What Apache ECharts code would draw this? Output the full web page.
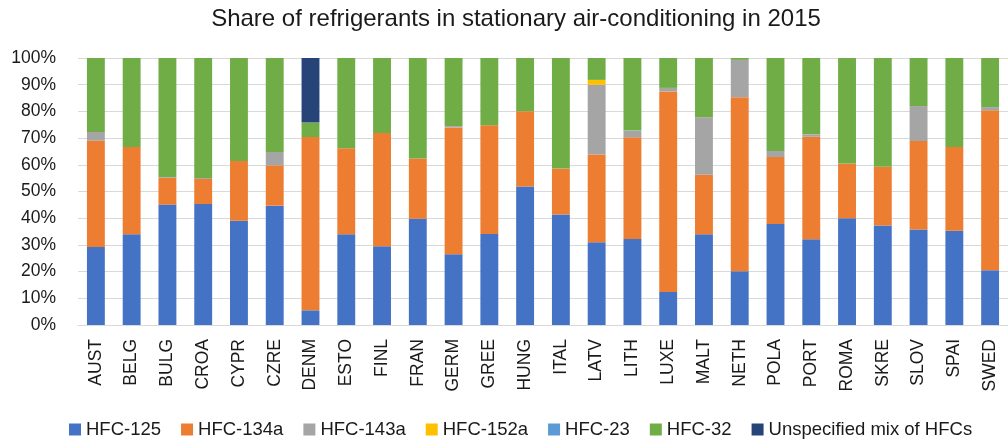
<!DOCTYPE html>
<html>
<head>
<meta charset="utf-8">
<script src="https://cdn.jsdelivr.net/npm/echarts@6/dist/echarts.min.js"></script>
<style>html,body{margin:0;padding:0;background:#fff}#c{width:1008px;height:441px}</style>
</head>
<body>
<div id="c"></div>
<script>
const categories = ['AUST','BELG','BULG','CROA','CYPR','CZRE','DENM','ESTO','FINL','FRAN','GERM','GREE','HUNG','ITAL','LATV','LITH','LUXE','MALT','NETH','POLA','PORT','ROMA','SKRE','SLOV','SPAI','SWED'];
const hfc125  = [29.2,34.0,45.1,45.3,39.0,44.7,5.5,34.0,29.5,39.8,26.5,34.1,51.9,41.4,31.0,32.2,12.4,34.0,20.1,37.8,32.1,40.0,37.3,35.8,35.3,20.5];
const hfc134a = [39.8,32.7,10.0,9.4,22.4,15.1,64.9,32.2,42.4,22.6,47.5,40.7,28.2,17.2,32.9,38.1,75.1,22.3,65.2,25.1,38.4,20.5,22.0,33.1,31.4,59.9];
const hfc143a = [3.3,0,0.3,0.4,0,5.0,0,0,0,0,0.5,0,0,0,26.1,2.5,1.3,21.5,14.0,2.3,0.9,0,0,13.1,0,1.2];
const hfc152a = [0,0,0,0,0,0,0,0,0,0,0,0,0,0,1.8,0,0,0,0,0,0,0,0,0,0,0];
const hfc23   = [0,0,0,0,0,0,0,0,0,0,0,0,0,0,0,0,0,0,0,0,0,0,0,0,0,0];
const hfc32   = [27.7,33.3,44.6,44.9,38.6,35.2,5.4,33.8,28.1,37.6,25.5,25.2,19.9,41.4,8.2,27.2,11.2,22.2,0.7,34.8,28.6,39.5,40.7,18.0,33.3,18.4];
const unspec  = [0,0,0,0,0,0,24.2,0,0,0,0,0,0,0,0,0,0,0,0,0,0,0,0,0,0,0];
const yTicks = [0,10,20,30,40,50,60,70,80,90,100];

const seriesDefs = [
  ['HFC-125', hfc125, '#4472C4'],
  ['HFC-134a', hfc134a, '#ED7D31'],
  ['HFC-143a', hfc143a, '#A5A5A5'],
  ['HFC-152a', hfc152a, '#FFC000'],
  ['HFC-23', hfc23, '#5B9BD5'],
  ['HFC-32', hfc32, '#70AD47'],
  ['Unspecified mix of HFCs', unspec, '#264478']
];
const FONT = 'Liberation Sans';
const chart = echarts.init(document.getElementById('c'));
chart.setOption({
  animation: false,
  title: {
    text: 'Share of refrigerants in stationary air-conditioning in 2015',
    left: 516, top: 7, textAlign: 'center', padding: 0,
    textStyle: {fontFamily: FONT, fontSize: 24, fontWeight: 'normal', color: '#1a1a1a'}
  },
  legend: {
    top: 420, left: 69, padding: 0,
    icon: 'rect', itemWidth: 12, itemHeight: 12, itemGap: 20,
    textStyle: {fontFamily: FONT, fontSize: 18.5, color: '#1a1a1a'},
    data: seriesDefs.map(s => s[0])
  },
  grid: {left: 78, right: -10, top: 58, bottom: 116},
  xAxis: {
    type: 'category', data: categories,
    axisLine: {lineStyle: {color: '#d9d9d9', width: 1}},
    axisTick: {show: false},
    axisLabel: {rotate: 90, interval: 0, margin: 14, fontFamily: FONT, fontSize: 17.5, color: '#1a1a1a'}
  },
  yAxis: {
    type: 'value', min: 0, max: 100, interval: 10,
    axisLine: {show: false}, axisTick: {show: false},
    splitLine: {lineStyle: {color: '#d9d9d9', width: 1}},
    axisLabel: {formatter: v => yTicks.includes(v) ? v + '%' : '', margin: 22, fontFamily: FONT, fontSize: 17.5, color: '#1a1a1a'}
  },
  series: seriesDefs.map(s => ({
    name: s[0], type: 'bar', stack: 'all', data: s[1], barWidth: '50%',
    itemStyle: {color: s[2]}
  }))
});
</script>
</body>
</html>
